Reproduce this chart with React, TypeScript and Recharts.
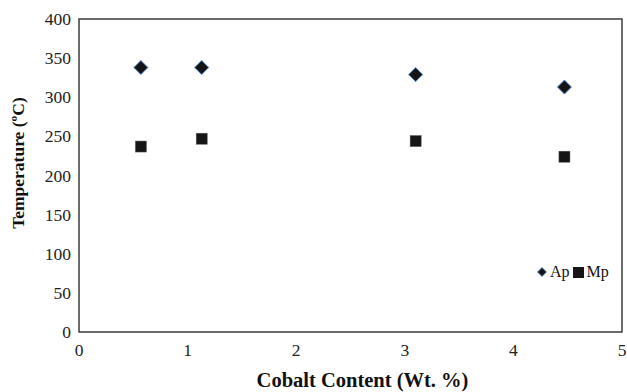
import { ScatterChart, Scatter, XAxis, YAxis, ReferenceArea } from "recharts";

const cobalt = [0.57, 1.13, 3.1, 4.47];
const apTemp = [338, 338, 329, 313];
const mpTemp = [237, 247, 244, 224];
const xTicks = [0, 1, 2, 3, 4, 5];
const yTicks = [0, 50, 100, 150, 200, 250, 300, 350, 400];

const apData = cobalt.map((x, i) => ({ x, y: apTemp[i] }));
const mpData = cobalt.map((x, i) => ({ x, y: mpTemp[i] }));

const FONT = "Liberation Serif";

const Diamond = (props: any) => {
  const { cx, cy } = props;
  const r = 7;
  return (
    <polygon
      points={`${cx},${cy - r} ${cx + r},${cy} ${cx},${cy + r} ${cx - r},${cy}`}
      fill="#141414"
      stroke="#4f86d1"
      strokeWidth={1}
    />
  );
};

const Square = (props: any) => {
  const { cx, cy } = props;
  const s = 11;
  return (
    <rect x={cx - s / 2} y={cy - s / 2} width={s} height={s} fill="#161616" stroke="#555" strokeWidth={0.5} />
  );
};

const XTick = (props: any) => {
  const { x, y, payload } = props;
  return (
    <text x={x} y={y + 20} textAnchor="middle" fontFamily={FONT} fontSize={17.5} fill="#222">
      {payload.value}
    </text>
  );
};

const YTick = (props: any) => {
  const { x, y, payload } = props;
  return (
    <text x={x - 2} y={y + 6} textAnchor="end" fontFamily={FONT} fontSize={17.5} fill="#222">
      {payload.value}
    </text>
  );
};

const LegendBox = () => (
  <div
    style={{
      position: "absolute",
      left: 537,
      top: 262,
      display: "flex",
      alignItems: "center",
      fontFamily: FONT,
      fontSize: 16,
      color: "#111",
      lineHeight: "20px",
    }}
  >
    <svg width={10} height={10} style={{ marginRight: 3 }}>
      <polygon points="5,0.5 9.5,5 5,9.5 0.5,5" fill="#141414" stroke="#4f86d1" strokeWidth={0.8} />
    </svg>
    <span style={{ marginRight: 3 }}>Ap</span>
    <svg width={11} height={11} style={{ marginRight: 3 }}>
      <rect x={0} y={0} width={11} height={11} fill="#161616" />
    </svg>
    <span>Mp</span>
  </div>
);

export default function App() {
  return (
    <div style={{ position: "absolute", left: 0, top: 0, width: 627, height: 392, background: "#fff", fontFamily: FONT }}>
      <ScatterChart width={627} height={392} margin={{ top: 19, right: 5, bottom: 30, left: 29 }}>
        <XAxis
          type="number"
          dataKey="x"
          domain={[0, 5]}
          ticks={xTicks}
          tickLine={false}
          axisLine={false}
          tickSize={0}
          tickMargin={4}
          height={30}
          tick={XTick}
          label={(p: any) => {
            const vb = p.viewBox;
            return (
              <text
                x={vb.x + vb.width / 2 + 12}
                y={387}
                textAnchor="middle"
                fontFamily={FONT}
                fontWeight="bold"
                fontSize={20.5}
                fill="#111"
              >
                Cobalt Content (Wt. %)
              </text>
            );
          }}
        />
        <YAxis
          type="number"
          dataKey="y"
          domain={[0, 400]}
          ticks={yTicks}
          tickLine={false}
          axisLine={false}
          tickSize={6}
          tickMargin={0}
          width={50}
          tick={YTick}
          label={() => (
            <text
              x={24}
              y={163}
              transform="rotate(-90, 24, 163)"
              textAnchor="middle"
              fontFamily={FONT}
              fontWeight="bold"
              fontSize={17.5}
              fill="#111"
            >
              Temperature (ºC)
            </text>
          )}
        />
        <ReferenceArea x1={0} x2={5} y1={0} y2={400} fill="none" stroke="#3c3c3c" strokeWidth={1.5} ifOverflow="visible" />
        <Scatter name="Ap" data={apData} shape={Diamond} isAnimationActive={false} />
        <Scatter name="Mp" data={mpData} shape={Square} isAnimationActive={false} />
      </ScatterChart>
      <LegendBox />
    </div>
  );
}
